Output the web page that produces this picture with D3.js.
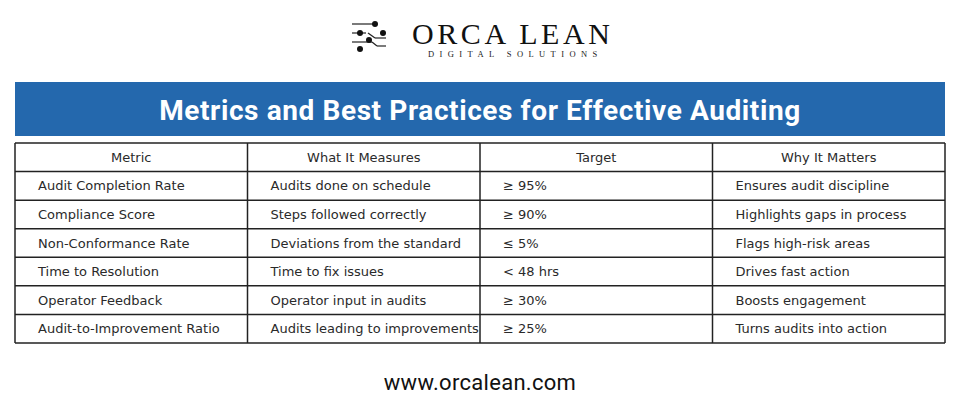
<!DOCTYPE html><html><head><meta charset="utf-8"><script src="https://cdn.jsdelivr.net/npm/d3@7"></script>
<style>body{margin:0;background:#fff}</style></head><body><svg id="c" width="960" height="417"></svg>
<script>
const headers=["Metric","What It Measures","Target","Why It Matters"];
const metrics=["Audit Completion Rate","Compliance Score","Non-Conformance Rate","Time to Resolution","Operator Feedback","Audit-to-Improvement Ratio"];
const measures=["Audits done on schedule","Steps followed correctly","Deviations from the standard","Time to fix issues","Operator input in audits","Audits leading to improvements"];
const targets=["≥ 95%","≥ 90%","≤ 5%","< 48 hrs","≥ 30%","≥ 25%"];
const why=["Ensures audit discipline","Highlights gaps in process","Flags high-risk areas","Drives fast action","Boosts engagement","Turns audits into action"];
const svg=d3.select("#c");
// logo
const g=svg.append("g");
[[352,24,375,24],[352,33,366,33],[352,42,372,42],[368,33,375,38],[375,38,386,38],[372,42,377,46],[377,46,386,46]].forEach(l=>g.append("line").attr("x1",l[0]).attr("y1",l[1]).attr("x2",l[2]).attr("y2",l[3]).attr("stroke","#222").attr("stroke-width",1.2));
[[375,24],[360,33],[383,33],[369,40],[360,49]].forEach(p=>g.append("circle").attr("cx",p[0]).attr("cy",p[1]).attr("r",3).attr("fill","#111"));
g.append("text").attr("x",412).attr("y",44).text("ORCA LEAN").attr("font-family","Liberation Serif").attr("font-size",30).attr("letter-spacing",3.6).attr("fill","#111");
g.append("text").attr("x",428).attr("y",57).text("DIGITAL SOLUTIONS").attr("font-family","Liberation Serif").attr("font-size",8.5).attr("letter-spacing",5.4).attr("fill","#222");
// banner
svg.append("rect").attr("x",15).attr("y",82).attr("width",930).attr("height",54).attr("fill","#2468ad");
svg.append("text").attr("x",480).attr("y",120).attr("text-anchor","middle").attr("fill","#fff").attr("font-family","Roboto").attr("font-weight","bold").attr("font-size",28).attr("letter-spacing",0.6).text("Metrics and Best Practices for Effective Auditing");
// table
const x=d3.scaleBand().domain(d3.range(4)).range([15,945]);
const rows=metrics.map((m,i)=>[m,measures[i],targets[i],why[i]]);
const y=d3.scaleBand().domain(d3.range(rows.length+1)).range([143,343]);
const t=svg.append("g").attr("font-family","DejaVu Sans").attr("font-size",13).attr("fill","#2a2a2a");
[headers,...rows].forEach((r,ri)=>r.forEach((v,ci)=>{
 t.append("text").attr("x",ri==0?x(ci)+x.bandwidth()/2:x(ci)+23).attr("y",y(ri)+y.bandwidth()/2+4.5)
  .attr("text-anchor",ri==0?"middle":"start").text(v);
}));
d3.range(rows.length+2).forEach(i=>{const yy=i<=rows.length?y(i):343;
 svg.append("line").attr("x1",15).attr("x2",945).attr("y1",yy).attr("y2",yy).attr("stroke","#222").attr("stroke-width",1.5);});
d3.range(5).forEach(i=>{const xx=i<4?x(i):945;
 svg.append("line").attr("x1",xx).attr("x2",xx).attr("y1",143).attr("y2",343).attr("stroke","#222").attr("stroke-width",1.5);});
svg.append("text").attr("x",480).attr("y",390).attr("text-anchor","middle").attr("font-family","Roboto").attr("font-size",22).attr("letter-spacing",0.3).attr("fill","#111").text("www.orcalean.com");
</script></body></html>
